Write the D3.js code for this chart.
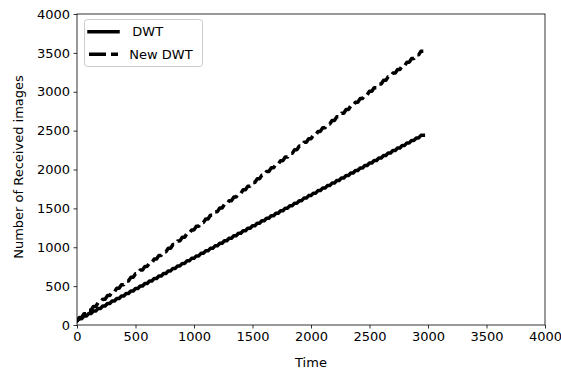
<!DOCTYPE html>
<html><head><meta charset="utf-8">
<script src="https://cdn.jsdelivr.net/npm/d3@7"></script>
<style>body{margin:0;background:#fff}svg{display:block;font-family:"DejaVu Sans",sans-serif}</style>
</head><body><svg id="c" width="561" height="373"></svg>
<script>
const times = [0,40,80,120,160,200,240,280,320,360,400,440,480,520,560,600,640,680,720,760,800,840,880,920,960,1000,1040,1080,1120,1160,1200,1240,1280,1320,1360,1400,1440,1480,1520,1560,1600,1640,1680,1720,1760,1800,1840,1880,1920,1960,2000,2040,2080,2120,2160,2200,2240,2280,2320,2360,2400,2440,2480,2520,2560,2600,2640,2680,2720,2760,2800,2840,2880,2920,2960];
const dwt = [50,82,115,147,179,211,244,276,308,341,373,405,437,470,502,534,566,599,631,663,696,728,760,792,825,857,889,922,954,986,1018,1051,1083,1115,1148,1180,1212,1244,1277,1309,1341,1373,1406,1438,1470,1503,1535,1567,1599,1632,1664,1696,1729,1761,1793,1825,1858,1890,1922,1955,1987,2019,2051,2084,2116,2148,2180,2213,2245,2277,2310,2342,2374,2406,2439];
const newDwt = [50,97,144,191,238,285,332,378,425,472,519,566,613,660,707,754,801,848,895,941,988,1035,1082,1129,1176,1223,1270,1317,1364,1411,1458,1504,1551,1598,1645,1692,1739,1786,1833,1880,1927,1974,2021,2068,2114,2161,2208,2255,2302,2349,2396,2443,2490,2537,2584,2631,2677,2724,2771,2818,2865,2912,2959,3006,3053,3100,3147,3194,3240,3287,3334,3381,3428,3475,3522];
const xTicks = [0,500,1000,1500,2000,2500,3000,3500,4000];
const yTicks = [0,500,1000,1500,2000,2500,3000,3500,4000];
const seriesNames = ["DWT", "New DWT"];

const svg = d3.select("#c");
const L = 77, R = 545, T = 14, B = 325;
const x = d3.scaleLinear().domain([0,4000]).range([L,R]);
const y = d3.scaleLinear().domain([0,4000]).range([B,T]);

svg.append("clipPath").attr("id","clp").append("rect")
  .attr("x",L).attr("y",T).attr("width",R-L).attr("height",B-T);

// curve: rise over the first half of each interval, then hold
function curveRiseHold(context){
  return {
    areaStart(){}, areaEnd(){},
    lineStart(){ this._p = 0; },
    lineEnd(){},
    point(px,py){
      if(!this._p){ context.moveTo(px,py); this._p = 1; }
      else { context.lineTo((this._x+px)/2, py); context.lineTo(px,py); }
      this._x = px;
    }
  };
}

const DASH = "13,5";
const line = d3.line().x(d=>x(d[0])).y(d=>y(d[1])).curve(curveRiseHold);
const g = svg.append("g").attr("clip-path","url(#clp)");
g.append("path").datum(times.map((t,i)=>[t,dwt[i]])).attr("d",line)
  .attr("fill","none").attr("stroke","#000").attr("stroke-width",3.5)
  .attr("stroke-linecap","square").attr("stroke-linejoin","round");
g.append("path").datum(times.map((t,i)=>[t,newDwt[i]])).attr("d",line)
  .attr("fill","none").attr("stroke","#000").attr("stroke-width",3.5)
  .attr("stroke-linejoin","round").attr("stroke-dasharray",DASH);

// axes
const xa = svg.append("g").attr("transform",`translate(0,${B})`)
  .call(d3.axisBottom(x).tickValues(xTicks).tickSize(3.5).tickPadding(3.5).tickFormat(d3.format("d")));
const ya = svg.append("g").attr("transform",`translate(${L},0)`)
  .call(d3.axisLeft(y).tickValues(yTicks).tickSize(3.5).tickPadding(3.5).tickFormat(d3.format("d")));
[xa,ya].forEach(a=>{
  a.select(".domain").remove();
  a.selectAll("line").attr("stroke","#000").attr("stroke-width",0.8);
  a.selectAll("text").attr("font-size",13).attr("fill","#000").attr("font-family","DejaVu Sans");
});
svg.append("rect").attr("x",L).attr("y",T).attr("width",R-L).attr("height",B-T)
  .attr("fill","none").attr("stroke","#000").attr("stroke-width",0.8);

svg.append("text").attr("x",(L+R)/2).attr("y",367).attr("text-anchor","middle")
  .attr("font-size",13).text("Time");
svg.append("text").attr("transform",`translate(23,167) rotate(-90)`)
  .attr("text-anchor","middle").attr("font-size",13).text("Number of Received images");

// legend
const lg = svg.append("g");
lg.append("rect").attr("x",84.5).attr("y",19.5).attr("width",118).attr("height",47).attr("rx",3)
  .attr("fill","#fff").attr("fill-opacity",0.8).attr("stroke","#ccc").attr("stroke-width",1);
const legY = [31.7, 54.3];
const legTextX = [132.3, 129.3];
seriesNames.forEach((n,i)=>{
  lg.append("line").attr("x1",89).attr("x2",118)
    .attr("y1",legY[i]).attr("y2",legY[i])
    .attr("stroke","#000").attr("stroke-width",3.5)
    .attr("stroke-linecap", i===0?"square":"butt")
    .attr("stroke-dasharray", i===1?"17,5":null);
  lg.append("text").attr("x",legTextX[i]).attr("y",legY[i]+4.7).attr("font-size",13).text(n);
});
</script></body></html>
